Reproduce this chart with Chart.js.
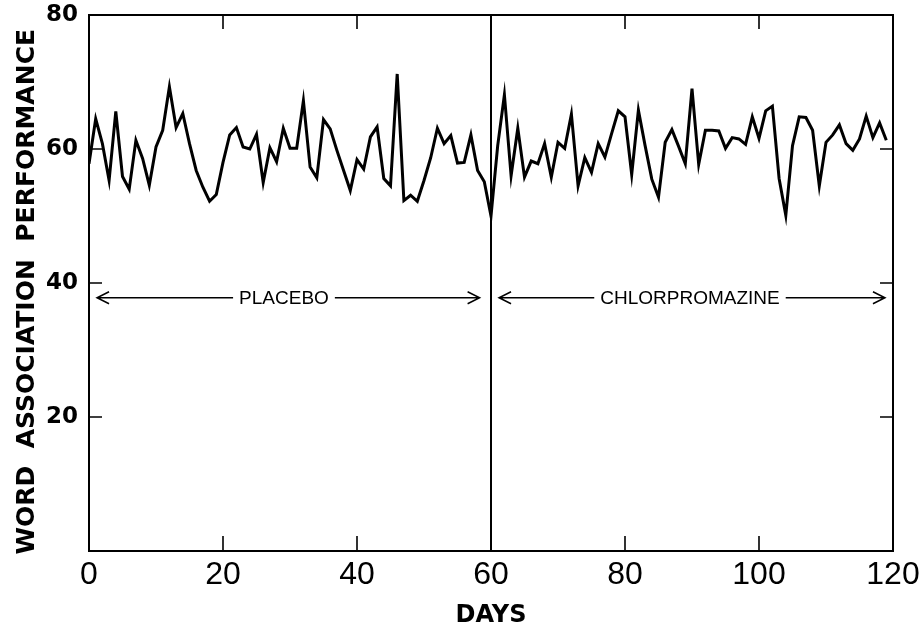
<!DOCTYPE html>
<html>
<head>
<meta charset="utf-8">
<script src="https://cdn.jsdelivr.net/npm/chart.js@4.4.1/dist/chart.umd.min.js"></script>
<style>
  html, body { margin: 0; padding: 0; background: #fff; }
  #wrap { width: 921px; height: 630px; }
</style>
</head>
<body>
<div id="wrap"><canvas id="chart" width="921" height="630"></canvas></div>
<script>
// word association performance, one value per day
const values = [
  57.8, 64.5, 60.8, 55.3, 65.6, 55.9, 54.0, 61.3, 58.6, 54.6,
  60.3, 62.8, 69.3, 63.2, 65.3, 60.8, 56.8, 54.3, 52.2, 53.2,
  58.0, 62.1, 63.2, 60.3, 60.0, 62.2, 55.0, 60.2, 58.1, 63.1,
  60.1, 60.1, 67.2, 57.3, 55.7, 64.4, 63.0, 59.8, 56.8, 53.8,
  58.4, 57.0, 61.8, 63.3, 55.6, 54.5, 71.2, 52.3, 53.1, 52.2,
  55.3, 58.7, 63.1, 60.8, 62.0, 57.9, 58.0, 62.1, 56.8, 55.1,
  50.0, 60.5, 68.1, 56.0, 63.1, 55.8, 58.2, 57.8, 60.8, 55.8,
  61.0, 60.1, 65.2, 54.5, 58.7, 56.5, 60.8, 58.8, 62.3, 65.7,
  64.8, 56.2, 65.8, 60.5, 55.5, 52.8, 61.0, 62.9, 60.4, 57.8,
  69.0, 57.7, 62.8, 62.8, 62.7, 60.1, 61.7, 61.5, 60.7, 64.8,
  61.6, 65.7, 66.4, 55.6, 50.1, 60.5, 64.8, 64.7, 62.8, 54.5,
  61.0, 62.1, 63.6, 60.8, 59.8, 61.5, 64.9, 61.7, 63.9, 61.3
];
const days = values.map((v, i) => i);

const xTicks = [0, 20, 40, 60, 80, 100, 120];
const yTicks = [20, 40, 60, 80];

// treatment phases (in data units)
const phaseNames = ['PLACEBO', 'CHLORPROMAZINE'];
const phaseStart = [1.2, 61.2];
const phaseEnd = [58.3, 118.8];
const phaseTextCenter = [29.1, 89.7];
const phaseLevel = 37.8;
const switchDay = 60;

const frame = {
  id: 'frame',
  afterDatasetsDraw(chart) {
    const { ctx, chartArea: a, scales: { x, y } } = chart;
    ctx.save();
    ctx.strokeStyle = '#000';
    ctx.lineWidth = 2;
    ctx.strokeRect(a.left, a.top, a.right - a.left, a.bottom - a.top);

    // inward ticks
    ctx.lineWidth = 1.6;
    ctx.beginPath();
    xTicks.slice(1, -1).forEach(t => {
      const px = x.getPixelForValue(t);
      ctx.moveTo(px, a.bottom); ctx.lineTo(px, a.bottom - 15);
      ctx.moveTo(px, a.top); ctx.lineTo(px, a.top + 14);
    });
    yTicks.slice(0, -1).forEach(t => {
      const py = y.getPixelForValue(t);
      ctx.moveTo(a.left, py); ctx.lineTo(a.left + 13, py);
      ctx.moveTo(a.right, py); ctx.lineTo(a.right - 13, py);
    });
    ctx.stroke();

    // treatment switch
    const sx = x.getPixelForValue(switchDay);
    ctx.lineWidth = 2;
    ctx.beginPath();
    ctx.moveTo(sx, a.top); ctx.lineTo(sx, a.bottom);
    ctx.stroke();

    // phase arrows
    const py = y.getPixelForValue(phaseLevel);
    ctx.font = '19px "Liberation Sans", Arial, sans-serif';
    ctx.fillStyle = '#000';
    ctx.textAlign = 'center';
    ctx.textBaseline = 'middle';
    ctx.lineWidth = 1.5;
    phaseNames.forEach((name, i) => {
      const x0 = x.getPixelForValue(phaseStart[i]);
      const x1 = x.getPixelForValue(phaseEnd[i]);
      const xc = x.getPixelForValue(phaseTextCenter[i]);
      const half = ctx.measureText(name).width / 2 + 6;
      ctx.fillText(name, xc, py + 1);
      ctx.beginPath();
      ctx.moveTo(x0, py); ctx.lineTo(xc - half, py);
      ctx.moveTo(xc + half, py); ctx.lineTo(x1, py);
      ctx.moveTo(x0 + 12, py - 6); ctx.lineTo(x0, py); ctx.lineTo(x0 + 12, py + 6);
      ctx.moveTo(x1 - 12, py - 6); ctx.lineTo(x1, py); ctx.lineTo(x1 - 12, py + 6);
      ctx.stroke();
    });
    ctx.restore();
  }
};

new Chart(document.getElementById('chart'), {
  type: 'line',
  data: {
    datasets: [{
      data: days.map((d, i) => ({ x: d, y: values[i] })),
      borderColor: '#000',
      borderWidth: 3,
      pointRadius: 0,
      tension: 0,
      borderJoinStyle: 'miter'
    }]
  },
  options: {
    responsive: false,
    animation: false,
    layout: { padding: { left: 0, right: 28, top: 15, bottom: 0 } },
    plugins: { legend: { display: false }, tooltip: { enabled: false } },
    scales: {
      x: {
        type: 'linear',
        min: 0, max: 120,
        afterBuildTicks: s => { s.ticks = xTicks.map(v => ({ value: v })); },
        afterFit: s => { s.height = 79; s.paddingLeft = 0; s.paddingRight = 0; },
        grid: { display: false, drawTicks: false },
        border: { display: false },
        ticks: {
          color: '#000',
          padding: 5,
          maxRotation: 0,
          font: { family: '"Liberation Sans Narrow", "Liberation Sans", sans-serif', size: 32 }
        },
        title: {
          display: true,
          text: 'DAYS',
          color: '#000',
          padding: { top: 4, bottom: 0 },
          font: { family: '"DejaVu Sans", sans-serif', size: 24, weight: 'bold' }
        }
      },
      y: {
        min: 0, max: 80,
        afterBuildTicks: s => { s.ticks = yTicks.map(v => ({ value: v })); },
        afterFit: s => { s.width = 89; s.paddingTop = 0; s.paddingBottom = 0; },
        grid: { display: false, drawTicks: false },
        border: { display: false },
        ticks: {
          color: '#000',
          padding: 11,
          font: { family: '"DejaVu Sans", sans-serif', size: 23, weight: 'bold' }
        },
        title: {
          display: true,
          text: 'WORD  ASSOCIATION  PERFORMANCE  ',
          color: '#000',
          padding: { top: 12, bottom: 0 },
          font: { family: '"DejaVu Sans", sans-serif', size: 25, weight: 'bold' }
        }
      }
    }
  },
  plugins: [frame]
});
</script>
</body>
</html>
